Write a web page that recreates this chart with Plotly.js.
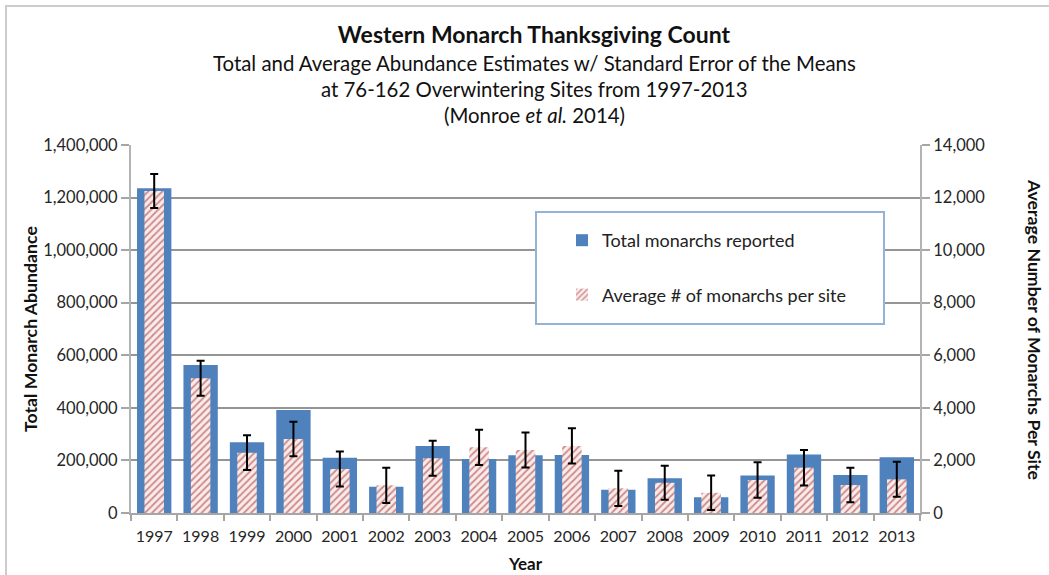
<!DOCTYPE html>
<html>
<head>
<meta charset="utf-8">
<script src="https://cdn.plot.ly/plotly-3.0.1.min.js"></script>
<style>html,body{margin:0;padding:0;background:#fff;}#chart{width:1049px;height:575px;}</style>
</head>
<body>
<div id="chart"></div>
<script>
const years = ['1997','1998','1999','2000','2001','2002','2003','2004','2005','2006','2007','2008','2009','2010','2011','2012','2013'];
const totalMonarchs = [1235000, 563000, 269000, 392000, 210000, 100000, 255000, 205000, 220000, 221000, 88000, 132000, 60000, 143000, 223000, 145000, 212000];
const avgPerSite = [12250, 5125, 2295, 2815, 1675, 1055, 2080, 2500, 2395, 2550, 940, 1150, 770, 1255, 1725, 1065, 1280];
const avgSE = [650, 665, 660, 655, 665, 670, 665, 670, 665, 670, 670, 650, 660, 675, 675, 655, 665];

const FONT = 'Lato, "Open Sans", sans-serif';
const L = 131, R = 920, T = 145, B = 513, W = 1049, H = 575;
const px = v => (v - L) / (R - L);
const py = v => (B - v) / (B - T);

const traces = [
  {
    type: 'bar', x: years, y: totalMonarchs, name: 'Total monarchs reported',
    legendgroup: 'a', width: 0.74,
    marker: {color: '#4f81bd', line: {width: 0}},
    xaxis: 'x', yaxis: 'y', hoverinfo: 'skip'
  },
  {
    type: 'bar', x: years, y: avgPerSite, name: 'Average # of monarchs per site',
    legendgroup: 'b', width: 0.42,
    marker: {color: '#f7e9e9', line: {width: 0},
      pattern: {shape: '/', fgcolor: '#d08a88', bgcolor: '#f8ecec', size: 5, solidity: 0.35}},
    error_y: {type: 'data', array: avgSE, visible: true, color: '#000', thickness: 2, width: 4},
    xaxis: 'x', yaxis: 'y2', hoverinfo: 'skip'
  }
];

const layout = {
  width: W, height: H,
  margin: {l: L, r: W - R, t: T, b: H - B, autoexpand: false},
  paper_bgcolor: '#fff', plot_bgcolor: 'rgba(0,0,0,0)',
  font: {family: FONT, size: 15, color: '#333'},
  barmode: 'overlay',
  showlegend: true,
  title: {text: '<b>Western Monarch Thanksgiving Count</b>', x: 0.509, xanchor: 'center', y: 1 - 35/H, yanchor: 'middle',
    font: {family: FONT, size: 23, color: '#111'}},
  xaxis: {
    type: 'category', tickson: 'boundaries', ticks: 'outside', ticklen: 6, tickcolor: '#a6a6a6', tickwidth: 2,
    showline: true, linecolor: '#a6a6a6', linewidth: 2, showgrid: false, tickangle: 0,
    tickfont: {family: FONT, size: 16, color: '#262626'}, ticklabelstandoff: 8,
    title: {text: '<b>Year</b>', font: {family: FONT, size: 17, color: '#111'}, standoff: 14},
    automargin: false, fixedrange: true
  },
  yaxis: {
    range: [0, 1400000], dtick: 200000, tickformat: ',d', ticks: 'outside', ticklen: 8, tickcolor: '#a6a6a6', tickwidth: 2,
    showline: true, linecolor: '#b3b3b3', linewidth: 2,
    showgrid: true, gridcolor: '#959595', gridwidth: 2, zeroline: false,
    tickfont: {family: FONT, size: 16.5, color: '#262626'}, automargin: false, fixedrange: true
  },
  yaxis2: {
    overlaying: 'y', side: 'right', range: [0, 14000], dtick: 2000, tickformat: ',d',
    ticks: 'outside', ticklen: 8, tickcolor: '#a6a6a6', tickwidth: 2,
    showline: true, linecolor: '#b3b3b3', linewidth: 2, showgrid: false, zeroline: false,
    tickfont: {family: FONT, size: 16.5, color: '#262626'}, automargin: false, fixedrange: true
  },
  legend: {
    x: px(562), y: py(222), xanchor: 'left', yanchor: 'top',
    bgcolor: 'rgba(0,0,0,0)', borderwidth: 0,
    font: {family: FONT, size: 18, color: '#222'},
    tracegroupgap: 28, orientation: 'v'
  },
  shapes: [
    {type: 'rect', xref: 'paper', yref: 'paper', x0: px(536), x1: px(884), y0: py(324), y1: py(212),
      line: {color: '#95b3d7', width: 2}, fillcolor: '#ffffff', layer: 'above'},
    {type: 'rect', xref: 'paper', yref: 'paper', x0: px(6), x1: px(1100), y0: py(620), y1: py(6),
      line: {color: '#cccccc', width: 2}, fillcolor: 'rgba(0,0,0,0)', layer: 'below'}
  ],
  annotations: [
    {text: 'Total and Average Abundance Estimates w/ Standard Error of the Means', xref: 'paper', yref: 'paper',
      x: px(534), y: py(63), showarrow: false, xanchor: 'center', yanchor: 'middle', font: {family: FONT, size: 20.4, color: '#111'}},
    {text: 'at 76-162 Overwintering Sites from 1997-2013', xref: 'paper', yref: 'paper',
      x: px(534), y: py(89), showarrow: false, xanchor: 'center', yanchor: 'middle', font: {family: FONT, size: 20.4, color: '#111'}},
    {text: '(Monroe <i>et al.</i> 2014)', xref: 'paper', yref: 'paper',
      x: px(534), y: py(115), showarrow: false, xanchor: 'center', yanchor: 'middle', font: {family: FONT, size: 20.4, color: '#111'}},
    {text: '<b>Total Monarch Abundance</b>', xref: 'paper', yref: 'paper', textangle: -90,
      x: px(30), y: 0.5, showarrow: false, xanchor: 'center', yanchor: 'middle', font: {family: FONT, size: 17.7, color: '#111'}},
    {text: '<b>Average Number of Monarchs Per Site</b>', xref: 'paper', yref: 'paper', textangle: 90,
      x: px(1035), y: 0.5, showarrow: false, xanchor: 'center', yanchor: 'middle', font: {family: FONT, size: 17.7, color: '#111'}}
  ]
};

Plotly.newPlot('chart', traces, layout, {displayModeBar: false, staticPlot: true});
</script>
</body>
</html>
